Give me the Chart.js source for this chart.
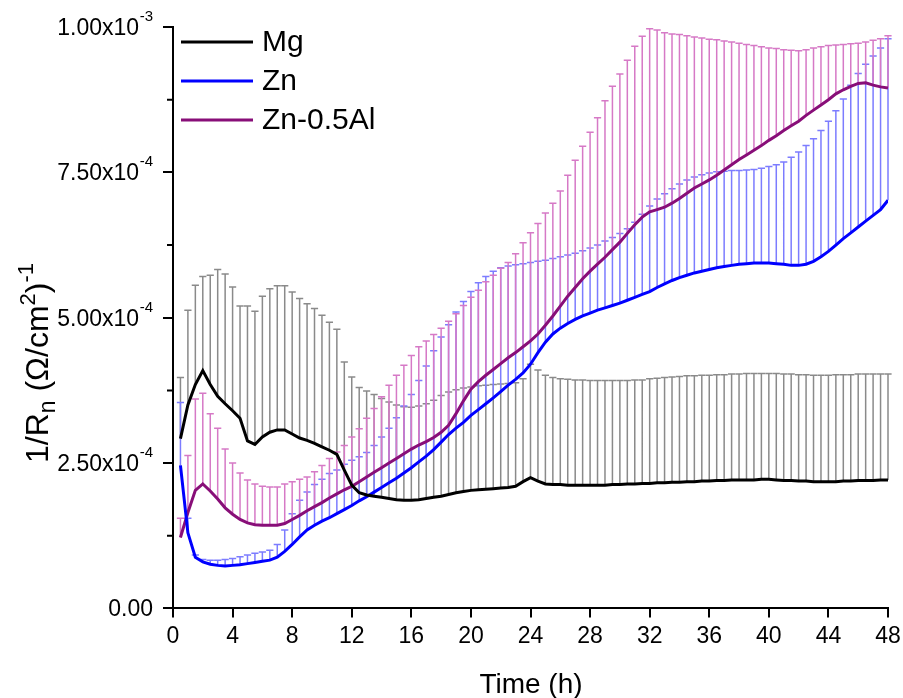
<!DOCTYPE html>
<html><head><meta charset="utf-8">
<script src="https://cdn.jsdelivr.net/npm/chart.js@4.4.1/dist/chart.umd.min.js"></script>
<style>html,body{margin:0;padding:0;background:#fff;overflow:hidden;}</style>
</head><body>
<canvas id="c" width="903" height="698" style="display:block;width:903px;height:698px"></canvas>
<script>
// Time (h)
const timeH = [0.5,1,1.5,2,2.5,3,3.5,4,4.5,5,5.5,6,6.5,7,7.5,8,8.5,9,9.5,10,10.5,11,11.5,12,12.5,13,13.5,14,14.5,15,15.5,16,16.5,17,17.5,18,18.5,19,19.5,20,20.5,21,21.5,22,22.5,23,23.5,24,24.5,25,25.5,26,26.5,27,27.5,28,28.5,29,29.5,30,30.5,31,31.5,32,32.5,33,33.5,34,34.5,35,35.5,36,36.5,37,37.5,38,38.5,39,39.5,40,40.5,41,41.5,42,42.5,43,43.5,44,44.5,45,45.5,46,46.5,47,47.5,48];
// 1/Rn values in units of 1e-4 (Ohm/cm2)^-1
const mgMean = [2.92,3.5,3.85,4.09,3.85,3.65,3.52,3.4,3.27,2.88,2.82,2.95,3.03,3.07,3.07,3.0,2.93,2.89,2.84,2.78,2.72,2.65,2.38,2.12,1.99,1.95,1.93,1.91,1.89,1.87,1.86,1.86,1.87,1.89,1.91,1.93,1.96,1.99,2.01,2.03,2.04,2.05,2.06,2.07,2.08,2.10,2.18,2.25,2.19,2.14,2.13,2.13,2.12,2.12,2.12,2.12,2.12,2.12,2.13,2.13,2.14,2.14,2.15,2.15,2.16,2.16,2.17,2.17,2.18,2.18,2.19,2.19,2.2,2.2,2.21,2.21,2.21,2.21,2.22,2.22,2.21,2.2,2.2,2.19,2.19,2.18,2.18,2.18,2.18,2.19,2.19,2.2,2.2,2.2,2.21,2.21];
const mgUpper = [3.97,5.13,5.56,5.71,5.73,5.83,5.75,5.53,5.2,5.2,5.11,5.37,5.5,5.55,5.55,5.44,5.33,5.24,5.16,5.04,4.92,4.8,4.24,3.98,3.8,3.74,3.68,3.61,3.55,3.5,3.47,3.46,3.48,3.52,3.58,3.66,3.72,3.76,3.79,3.81,3.83,3.84,3.85,3.86,3.87,3.88,3.95,4.2,4.1,4.01,3.97,3.95,3.94,3.93,3.93,3.92,3.92,3.92,3.92,3.92,3.92,3.93,3.93,3.95,3.96,3.97,3.98,3.99,4.0,4.0,4.01,4.01,4.02,4.02,4.03,4.03,4.04,4.04,4.04,4.04,4.04,4.03,4.03,4.02,4.02,4.01,4.01,4.01,4.02,4.02,4.02,4.03,4.03,4.03,4.03,4.03];
const znMean = [2.46,1.3,0.88,0.8,0.76,0.74,0.73,0.74,0.75,0.77,0.79,0.81,0.83,0.88,0.98,1.1,1.23,1.35,1.43,1.5,1.56,1.63,1.7,1.77,1.85,1.92,2.0,2.08,2.16,2.24,2.33,2.42,2.52,2.62,2.73,2.86,2.99,3.1,3.2,3.32,3.42,3.52,3.62,3.73,3.84,3.94,4.05,4.2,4.4,4.58,4.72,4.82,4.9,4.97,5.03,5.08,5.13,5.17,5.21,5.25,5.3,5.35,5.4,5.45,5.52,5.58,5.64,5.69,5.73,5.77,5.8,5.83,5.86,5.88,5.9,5.92,5.93,5.94,5.94,5.94,5.93,5.92,5.9,5.9,5.92,5.97,6.05,6.14,6.25,6.36,6.46,6.56,6.66,6.76,6.86,7.02];
const znUpper = [3.54,1.55,0.92,0.84,0.83,0.83,0.84,0.86,0.89,0.92,0.95,0.97,1.0,1.1,1.35,1.63,1.86,2.0,2.13,2.22,2.32,2.38,2.48,2.55,2.61,2.68,2.8,2.95,3.1,3.28,3.48,3.68,3.92,4.17,4.43,4.67,4.88,5.1,5.28,5.45,5.6,5.71,5.8,5.86,5.89,5.91,5.93,5.95,5.97,5.99,6.02,6.05,6.08,6.11,6.15,6.2,6.25,6.32,6.38,6.45,6.53,6.64,6.78,6.92,7.04,7.13,7.22,7.3,7.37,7.42,7.46,7.49,7.51,7.52,7.53,7.53,7.54,7.55,7.57,7.6,7.63,7.68,7.76,7.85,7.96,8.08,8.22,8.38,8.56,8.76,9.0,9.2,9.36,9.5,9.64,9.8];
const alMean = [1.22,1.65,2.03,2.14,2.02,1.88,1.73,1.62,1.53,1.47,1.44,1.43,1.43,1.43,1.46,1.53,1.6,1.68,1.75,1.82,1.9,1.97,2.04,2.1,2.18,2.26,2.34,2.42,2.5,2.58,2.66,2.74,2.81,2.87,2.94,3.03,3.15,3.35,3.57,3.77,3.9,4.01,4.11,4.21,4.31,4.4,4.5,4.6,4.72,4.87,5.03,5.2,5.37,5.52,5.67,5.8,5.92,6.04,6.17,6.3,6.45,6.6,6.73,6.82,6.86,6.9,6.97,7.05,7.14,7.23,7.3,7.37,7.45,7.54,7.63,7.72,7.8,7.88,7.96,8.05,8.13,8.22,8.3,8.38,8.48,8.57,8.66,8.75,8.85,8.92,8.98,9.03,9.04,9.0,8.97,8.95];
const alUpper = [1.55,2.63,3.6,3.7,3.35,3.1,2.74,2.5,2.33,2.21,2.14,2.1,2.09,2.09,2.14,2.18,2.22,2.26,2.35,2.46,2.58,2.69,2.8,2.95,3.09,3.27,3.44,3.64,3.84,4.01,4.18,4.35,4.5,4.6,4.71,4.82,4.94,5.07,5.21,5.35,5.47,5.62,5.73,5.85,5.95,6.1,6.29,6.46,6.62,6.8,6.97,7.18,7.45,7.71,7.95,8.19,8.44,8.73,8.98,9.19,9.43,9.67,9.84,9.97,9.95,9.9,9.88,9.87,9.85,9.83,9.81,9.79,9.78,9.76,9.74,9.72,9.7,9.68,9.66,9.64,9.63,9.61,9.6,9.59,9.61,9.64,9.66,9.68,9.69,9.7,9.71,9.72,9.74,9.77,9.8,9.85];
const seriesNames = ['Mg','Zn','Zn-0.5Al'];
const yTickValues = [0, 2.5, 5, 7.5, 10];
const yTickMant = ['0.00','2.50x10','5.00x10','7.50x10','1.00x10'];
const yTickExp = ['','-4','-4','-4','-3'];
const xTitle = 'Time (h)';

const lineColors = ['#000000','#0000ff','#880e78'];
const barColors = ['#8a8a8a','#7c7cff','#d679c6'];
const means = [mgMean, znMean, alMean];
const uppers = [mgUpper, znUpper, alUpper];
const FONT = '"Liberation Sans", Arial, sans-serif';

const pts = arr => timeH.map((t,i)=>({x:t, y:arr[i]}));

const decor = {
  id:'decor',
  beforeDatasetsDraw(chart){
    const ctx = chart.ctx, xs = chart.scales.x, ys = chart.scales.y;
    ctx.save();
    for (let s=0; s<3; s++){
      ctx.strokeStyle = barColors[s];
      ctx.lineWidth = 1.5;
      ctx.beginPath();
      means[s].forEach((m,i)=>{
        const x = xs.getPixelForValue(timeH[i]);
        const y0 = ys.getPixelForValue(m), y1 = ys.getPixelForValue(uppers[s][i]);
        ctx.moveTo(x, y0); ctx.lineTo(x, y1);
        ctx.moveTo(x-3.6, y1); ctx.lineTo(x+3.6, y1);
      });
      ctx.stroke();
    }
    ctx.restore();
  },
  afterDraw(chart){
    const ctx = chart.ctx, xs = chart.scales.x, ys = chart.scales.y;
    const ca = chart.chartArea;
    ctx.save();
    // minor y ticks
    ctx.strokeStyle = '#000'; ctx.lineWidth = 2;
    ctx.beginPath();
    for (let i=0;i<yTickValues.length-1;i++){
      const v = (yTickValues[i]+yTickValues[i+1])/2;
      const y = ys.getPixelForValue(v);
      ctx.moveTo(ca.left-6, y); ctx.lineTo(ca.left, y);
    }
    ctx.stroke();
    // y tick labels with superscript exponent
    ctx.fillStyle = '#000';
    ctx.textBaseline = 'alphabetic';
    const rightX = 153;
    yTickValues.forEach((v,i)=>{
      const y = ys.getPixelForValue(v);
      let r = rightX;
      if (yTickExp[i]){
        ctx.font = '15px ' + FONT;
        ctx.textAlign = 'right';
        ctx.fillText(yTickExp[i], r, y - 6);
        r -= ctx.measureText(yTickExp[i]).width + 0.5;
      }
      ctx.font = '23px ' + FONT;
      ctx.textAlign = 'right';
      ctx.fillText(yTickMant[i], r, y + 8);
    });
    // x title
    ctx.font = '28px ' + FONT;
    ctx.textAlign = 'center';
    ctx.fillText(xTitle, 531, 693);
    // y title rotated
    ctx.translate(48, 363);
    ctx.rotate(-Math.PI/2);
    const parts = [
      {t:'1/R', f:32, dy:0},
      {t:'n', f:23, dy:7},
      {t:' (\u03A9/cm', f:32, dy:0},
      {t:'2', f:22, dy:-13},
      {t:')', f:32, dy:0},
      {t:'-1', f:22, dy:-15}
    ];
    let total = 0;
    parts.forEach(p=>{ ctx.font = p.f+'px '+FONT; p.w = ctx.measureText(p.t).width; total += p.w; });
    let x = -total/2;
    ctx.textAlign = 'left';
    parts.forEach(p=>{ ctx.font = p.f+'px '+FONT; ctx.fillText(p.t, x, p.dy); x += p.w; });
    ctx.setTransform(1,0,0,1,0,0);
    // legend
    const legY = [42, 81, 120];
    ctx.font = '30px ' + FONT;
    ctx.textBaseline = 'middle';
    ctx.textAlign = 'left';
    for (let s=0;s<3;s++){
      ctx.strokeStyle = lineColors[s]; ctx.lineWidth = 2.8;
      ctx.beginPath(); ctx.moveTo(181, legY[s]); ctx.lineTo(253, legY[s]); ctx.stroke();
      ctx.fillStyle = '#000';
      ctx.fillText(chart.data.datasets[s].label, 262, legY[s] + 1);
    }
    ctx.restore();
  }
};

new Chart(document.getElementById('c'), {
  type: 'line',
  data: {
    datasets: [0,1,2].map(s=>({
      label: seriesNames[s],
      data: pts(means[s]),
      borderColor: lineColors[s],
      backgroundColor: lineColors[s],
      borderWidth: 3,
      pointRadius: 0,
      tension: 0,
      fill: false
    }))
  },
  options: {
    responsive: false,
    animation: false,
    devicePixelRatio: 1,
    layout: { padding: { left: 163, top: 27, right: 15, bottom: 43 } },
    plugins: { legend: { display: false }, tooltip: { enabled: false } },
    scales: {
      x: {
        type: 'linear', min: 0, max: 48,
        afterFit: sc => { sc.paddingRight = 0; sc.paddingLeft = 0; },
        ticks: { stepSize: 4, color: '#000', font: { family: FONT, size: 23 }, padding: 5, maxRotation: 0, autoSkip: false },
        grid: { drawOnChartArea: false, tickLength: 9, color: '#000', lineWidth: 2 },
        border: { color: '#000', width: 2 }
      },
      y: {
        min: 0, max: 10,
        afterBuildTicks: sc => { sc.ticks = yTickValues.map(v=>({value:v})); },
        ticks: { display: false },
        grid: { drawOnChartArea: false, tickLength: 10, color: '#000', lineWidth: 2 },
        border: { color: '#000', width: 2 }
      }
    }
  },
  plugins: [decor]
});
</script>
</body></html>
